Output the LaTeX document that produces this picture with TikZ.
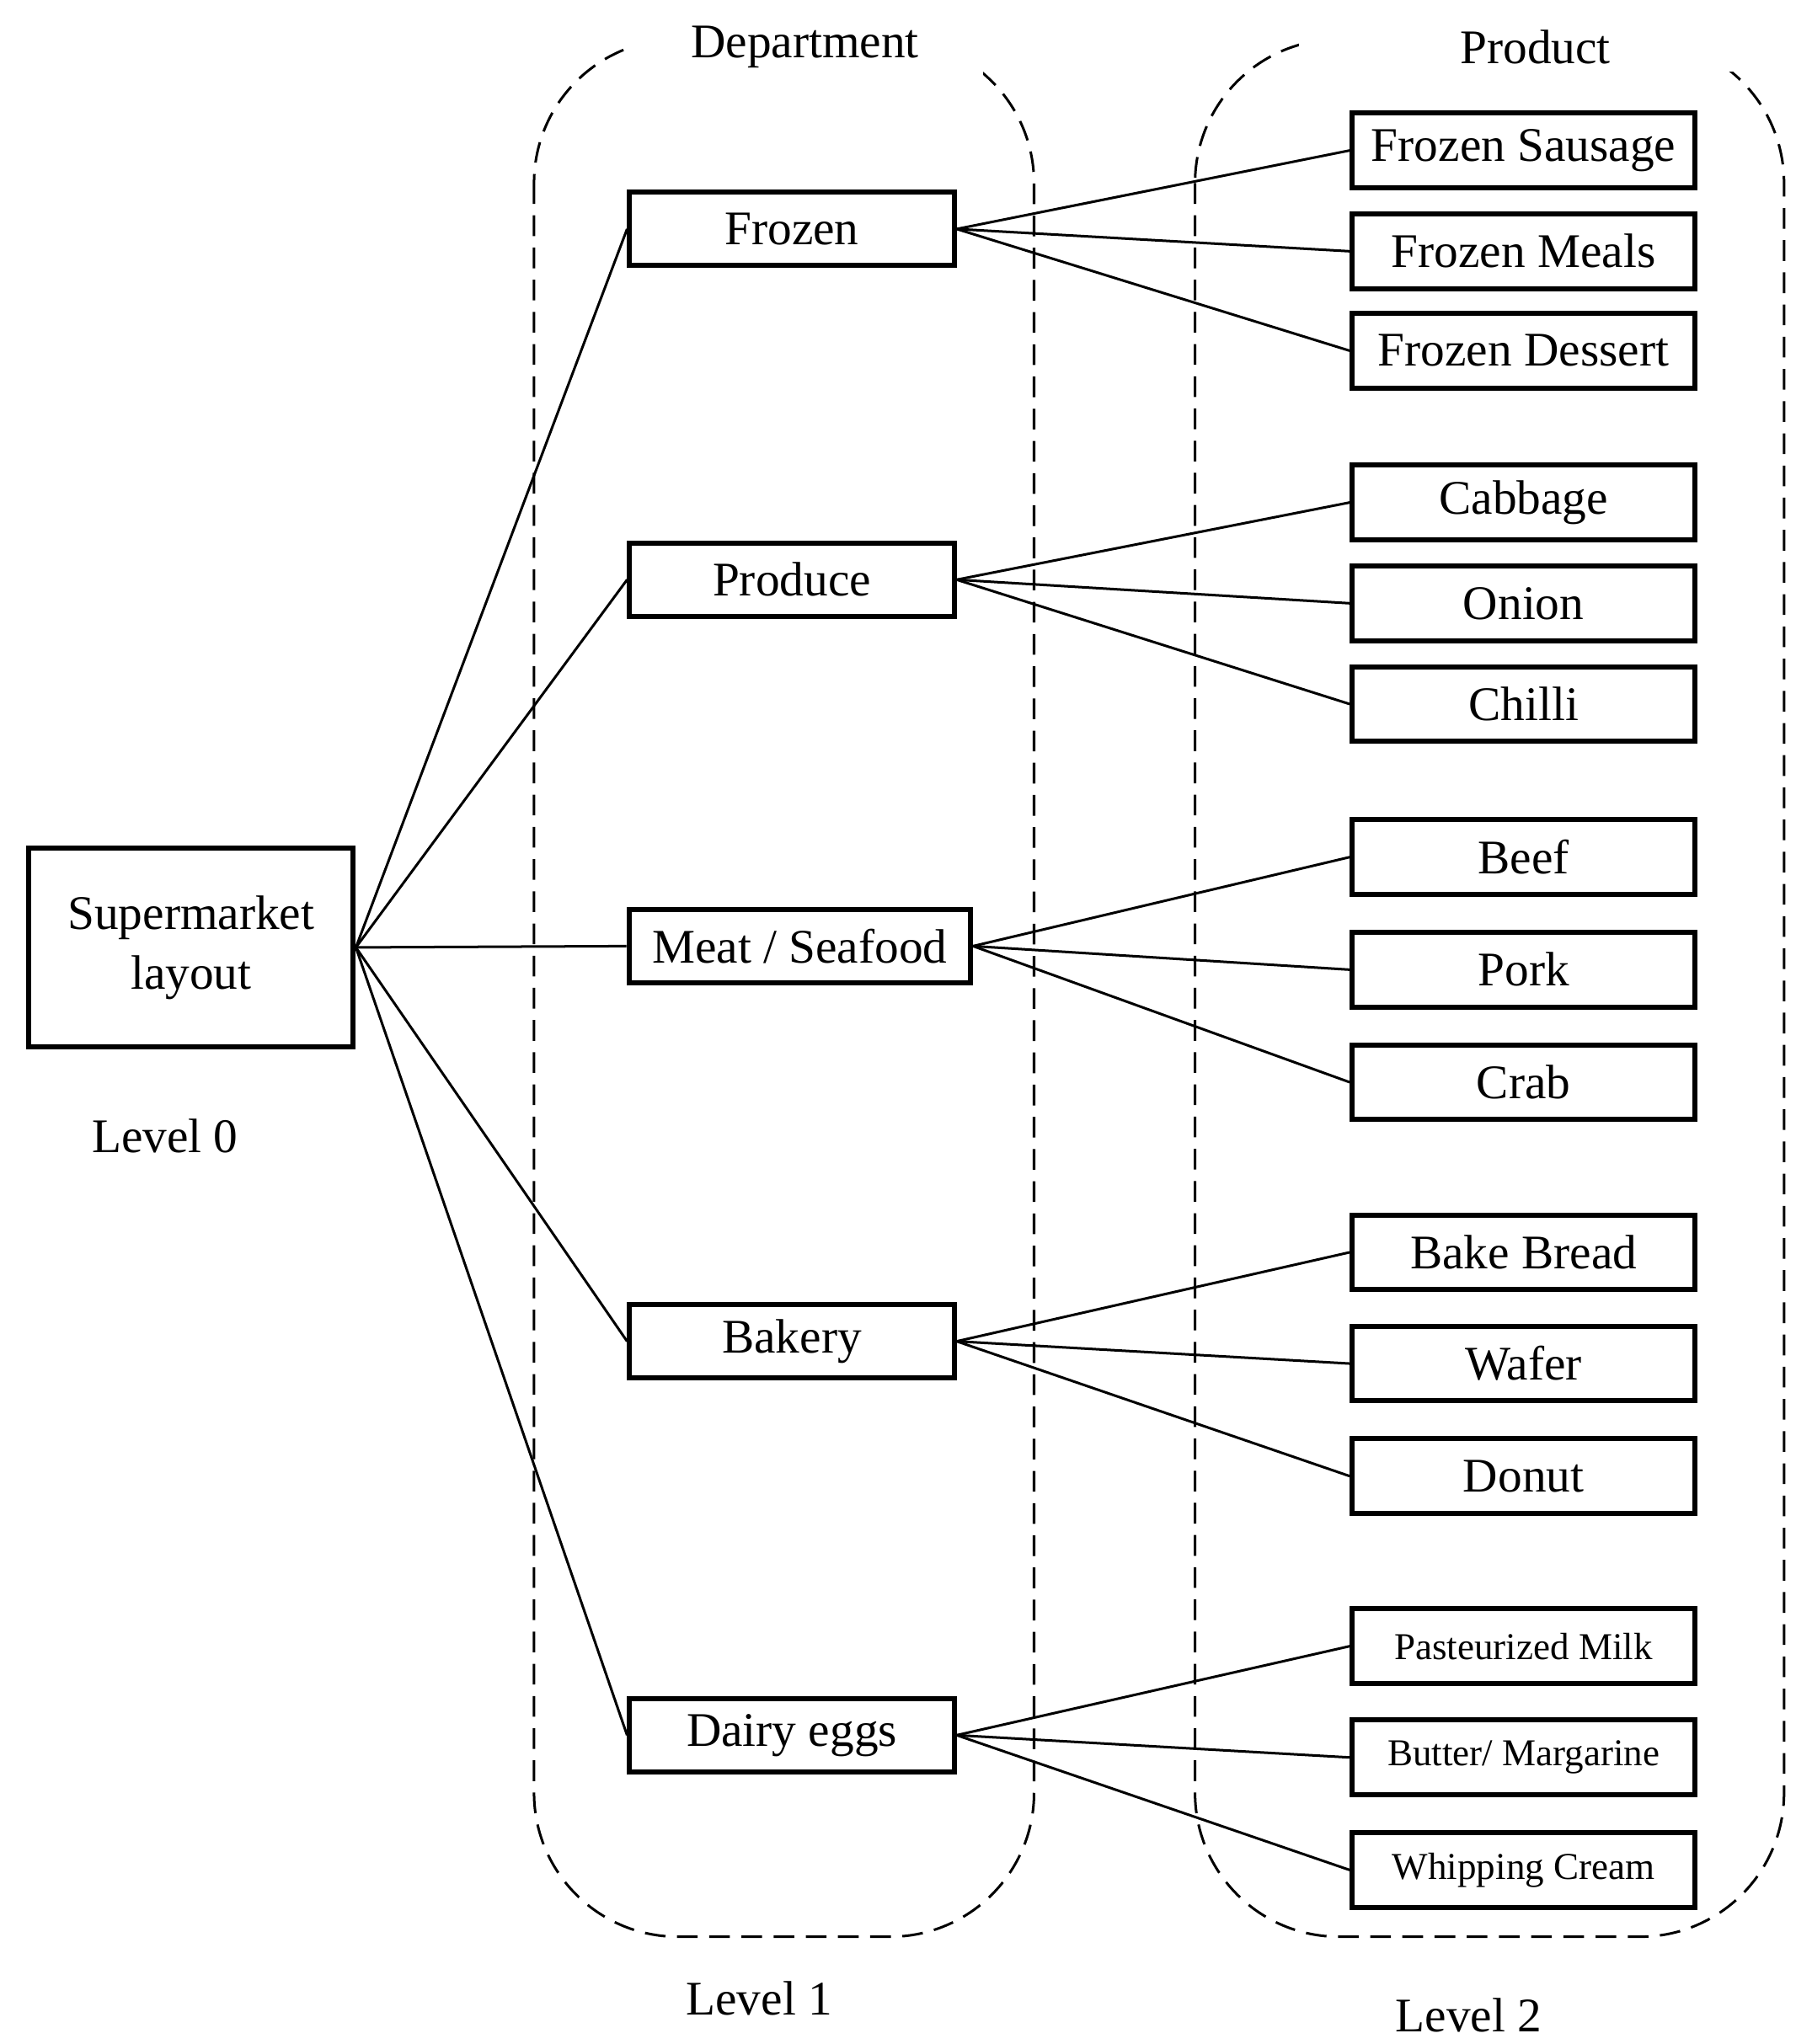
\documentclass[tikz,border=0pt]{standalone}
\usepackage{fontspec}
\setmainfont{Liberation Serif}
\usetikzlibrary{positioning,calc}
\begin{document}
\begin{tikzpicture}[
    x=0.02cm, y=-0.02cm,
    box/.style={rectangle, draw, line width=2.2pt, minimum width=4.96cm, minimum height=1.12cm, inner sep=0pt, font=\fontsize{21}{24}\selectfont},
    prod/.style={box, minimum width=5.24cm, minimum height=1.14cm},
    small/.style={font=\fontsize{16.5}{19}\selectfont},
    link/.style={line width=1.1pt},
    region/.style={dash pattern=on 9pt off 5pt, line width=1.1pt, rounded corners=2.2cm},
    lbl/.style={font=\fontsize{21}{24}\selectfont}
]
    \useasboundingbox (0,0) rectangle (1384,1562);

    % regions
    \draw[region] (408,30) rectangle (790,1480);
    \draw[region] (913,30) rectangle (1363,1480);
    \node[lbl, fill=white, inner xsep=28pt] (dep) at (615,36) {Department};
    \node[lbl, fill=white, inner xsep=70pt] (prd) at (1173,36) {Product};

    % level 0
    \node[box, minimum width=4.96cm, minimum height=3.04cm, align=center, font=\fontsize{21}{26}\selectfont] (root) at (146,724) {Supermarket\\layout};
    \node[lbl] (l0) at (126,868) {Level 0};
    \node[lbl] (l1) at (580,1527) {Level 1};
    \node[lbl] (l2) at (1122,1540) {Level 2};

    % departments
    \node[box, fill=white] (frozen) at (605,175) {Frozen};
    \node[box, fill=white] (produce) at (605,443) {Produce};
    \node[box, fill=white, minimum width=5.22cm] (meat) at (611,723) {Meat / Seafood};
    \node[box, fill=white] (bakery) at (605,1025) {Bakery};
    \node[box, fill=white] (dairy) at (605,1326) {Dairy eggs};

    % products
    \node[prod, fill=white] (p1) at (1164,115) {Frozen Sausage};
    \node[prod, fill=white] (p2) at (1164,192) {Frozen Meals};
    \node[prod, fill=white] (p3) at (1164,268) {Frozen Dessert};
    \node[prod, fill=white] (p4) at (1164,384) {Cabbage};
    \node[prod, fill=white] (p5) at (1164,461) {Onion};
    \node[prod, fill=white] (p6) at (1164,538) {Chilli};
    \node[prod, fill=white] (p7) at (1164,655) {Beef};
    \node[prod, fill=white] (p8) at (1164,741) {Pork};
    \node[prod, fill=white] (p9) at (1164,827) {Crab};
    \node[prod, fill=white] (p10) at (1164,957) {Bake Bread};
    \node[prod, fill=white] (p11) at (1164,1042) {Wafer};
    \node[prod, fill=white] (p12) at (1164,1128) {Donut};
    \node[prod, fill=white, small] (p13) at (1164,1258) {Pasteurized Milk};
    \node[prod, fill=white, small] (p14) at (1164,1343) {Butter/ Margarine};
    \node[prod, fill=white, small] (p15) at (1164,1429) {Whipping Cream};

    % connectors
    \foreach \d in {frozen,produce,meat,bakery,dairy}
        \draw[link] (root.east) -- (\d.west);
    \foreach \d/\a/\b/\c in {frozen/p1/p2/p3, produce/p4/p5/p6, meat/p7/p8/p9, bakery/p10/p11/p12, dairy/p13/p14/p15}{
        \draw[link] (\d.east) -- (\a.west);
        \draw[link] (\d.east) -- (\b.west);
        \draw[link] (\d.east) -- (\c.west);
    }
\end{tikzpicture}
\end{document}
